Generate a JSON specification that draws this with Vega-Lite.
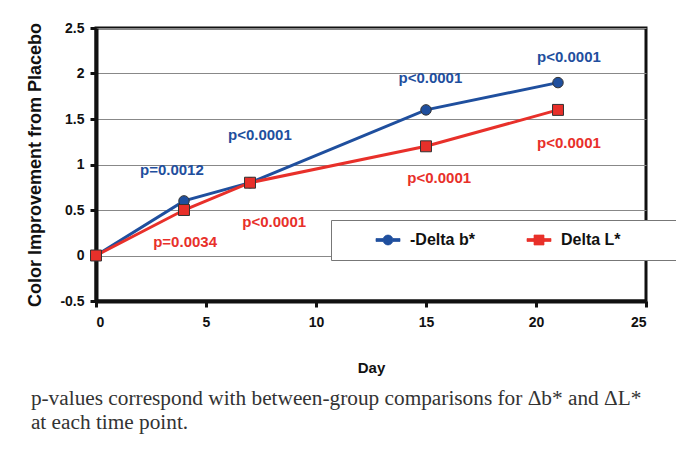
{
  "$schema": "https://vega.github.io/schema/vega-lite/v6.json",
  "width": 550,
  "height": 273,
  "autosize": {"type": "none"},
  "padding": {"left": 96, "top": 28, "right": 30, "bottom": 148},
  "background": "white",
  "datasets": {
    "series": [
      {"series": "-Delta b*", "day": 0, "value": 0},
      {"series": "-Delta b*", "day": 4, "value": 0.6},
      {"series": "-Delta b*", "day": 7, "value": 0.8},
      {"series": "-Delta b*", "day": 15, "value": 1.6},
      {"series": "-Delta b*", "day": 21, "value": 1.9},
      {"series": "Delta L*", "day": 0, "value": 0},
      {"series": "Delta L*", "day": 4, "value": 0.5},
      {"series": "Delta L*", "day": 7, "value": 0.8},
      {"series": "Delta L*", "day": 15, "value": 1.2},
      {"series": "Delta L*", "day": 21, "value": 1.6}
    ],
    "labels": [
      {"series": "-Delta b*", "day": 3.45, "value": 0.94, "label": "p=0.0012"},
      {"series": "-Delta b*", "day": 7.45, "value": 1.32, "label": "p<0.0001"},
      {"series": "-Delta b*", "day": 15.2, "value": 1.95, "label": "p<0.0001"},
      {"series": "-Delta b*", "day": 21.5, "value": 2.18, "label": "p<0.0001"},
      {"series": "Delta L*", "day": 4.05, "value": 0.15, "label": "p=0.0034"},
      {"series": "Delta L*", "day": 8.1, "value": 0.37, "label": "p<0.0001"},
      {"series": "Delta L*", "day": 15.6, "value": 0.85, "label": "p<0.0001"},
      {"series": "Delta L*", "day": 21.5, "value": 1.24, "label": "p<0.0001"}
    ]
  },
  "title": {
    "text": ["p-values correspond with between-group comparisons for  Δb* and  ΔL*", "at each time point."],
    "orient": "bottom",
    "anchor": "start",
    "frame": "bounds",
    "font": "Liberation Serif",
    "fontSize": 21.3,
    "fontWeight": "normal",
    "color": "#333333",
    "lineHeight": 24,
    "offset": 13,
    "dx": 4
  },
  "config": {
    "view": {"stroke": "#111111", "strokeWidth": 3},
    "axis": {
      "labelFont": "Liberation Sans",
      "labelFontWeight": "bold",
      "labelFontSize": 14,
      "labelColor": "#111111",
      "titleFont": "Liberation Sans",
      "titleFontWeight": "bold",
      "titleColor": "#111111",
      "domainColor": "#111111",
      "domainWidth": 4,
      "tickColor": "#111111",
      "tickWidth": 3,
      "tickSize": 6
    }
  },
  "layer": [
    {
      "data": {"name": "series"},
      "mark": {"type": "line", "strokeWidth": 3},
      "encoding": {
        "x": {"field": "day", "type": "quantitative", "scale": {"domain": [0, 25], "nice": false},
          "axis": {"values": [0, 5, 10, 15, 20, 25], "grid": false, "title": "Day", "titleFontSize": 15, "labelPadding": 8, "titlePadding": 31}},
        "y": {"field": "value", "type": "quantitative", "scale": {"domain": [-0.5, 2.5], "nice": false, "zero": false},
          "axis": {"values": [-0.5, 0, 0.5, 1, 1.5, 2, 2.5], "grid": true, "gridColor": "#888888", "gridWidth": 1, "gridOpacity": 1,
            "labelExpr": "datum.value < 0 ? '-' + abs(datum.value) : '' + datum.value",
            "title": "Color Improvement from Placebo", "titleFontSize": 18, "labelPadding": 6, "titlePadding": 15}},
        "color": {"field": "series", "type": "nominal", "scale": {"domain": ["-Delta b*", "Delta L*"], "range": ["#1f4f9e", "#e8302a"]}, "legend": {
          "orient": "none", "legendX": 235, "legendY": 192, "direction": "horizontal",
          "fillColor": "white", "strokeColor": "#777777", "padding": 12,
          "labelFont": "Liberation Sans", "labelFontWeight": "bold", "labelFontSize": 16, "labelColor": "#111111",
          "symbolSize": 100, "symbolOffset": 37, "labelOffset": 14, "columnPadding": 19,
          "title": " ", "titleOrient": "right", "titlePadding": 73,
          "encode": {"symbols": {"update": {"shape": {"signal": "datum.value === '-Delta b*' ? 'M-2.4,-0.3H-1V0.3H-2.4Z M1,-0.3H2.4V0.3H1Z M-1,0A1,1 0 1,0 1,0A1,1 0 1,0 -1,0Z' : 'M-2.4,-0.3H-1V0.3H-2.4Z M1,-0.3H2.4V0.3H1Z M-1,-1H1V1H-1Z'"}, "fill": {"signal": "datum.value === '-Delta b*' ? '#1f4f9e' : '#e8302a'"}, "stroke": {"value": "#333333"}, "strokeWidth": {"value": 0.7}, "fillOpacity": {"value": 1}, "opacity": {"value": 1}}}}
        }}
      }
    },
    {
      "data": {"name": "series"},
      "transform": [{"filter": "datum.series === '-Delta b*'"}],
      "mark": {"type": "point", "shape": "circle", "filled": true, "opacity": 1, "stroke": "#333333", "strokeWidth": 1, "size": 110},
      "encoding": {
        "x": {"field": "day", "type": "quantitative"},
        "y": {"field": "value", "type": "quantitative"},
        "color": {"field": "series", "type": "nominal"}
      }
    },
    {
      "data": {"name": "series"},
      "transform": [{"filter": "datum.series === 'Delta L*'"}],
      "mark": {"type": "point", "shape": "square", "filled": true, "opacity": 1, "stroke": "#333333", "strokeWidth": 1, "size": 120},
      "encoding": {
        "x": {"field": "day", "type": "quantitative"},
        "y": {"field": "value", "type": "quantitative"},
        "color": {"field": "series", "type": "nominal"}
      }
    },
    {
      "data": {"name": "labels"},
      "mark": {"type": "text", "font": "Liberation Sans", "fontWeight": "bold", "fontSize": 15},
      "encoding": {
        "x": {"field": "day", "type": "quantitative"},
        "y": {"field": "value", "type": "quantitative"},
        "text": {"field": "label"},
        "color": {"field": "series", "type": "nominal"}
      }
    }
  ]
}
